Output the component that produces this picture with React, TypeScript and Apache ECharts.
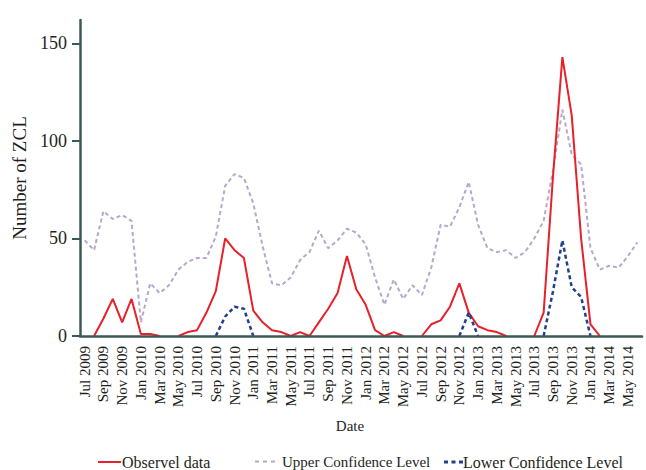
import React, { useEffect, useRef } from "react";
import * as echarts from "echarts";

const categories = [
  "Jul 2009", "Aug 2009", "Sep 2009", "Oct 2009", "Nov 2009", "Dec 2009",
  "Jan 2010", "Feb 2010", "Mar 2010", "Apr 2010", "May 2010", "Jun 2010",
  "Jul 2010", "Aug 2010", "Sep 2010", "Oct 2010", "Nov 2010", "Dec 2010",
  "Jan 2011", "Feb 2011", "Mar 2011", "Apr 2011", "May 2011", "Jun 2011",
  "Jul 2011", "Aug 2011", "Sep 2011", "Oct 2011", "Nov 2011", "Dec 2011",
  "Jan 2012", "Feb 2012", "Mar 2012", "Apr 2012", "May 2012", "Jun 2012",
  "Jul 2012", "Aug 2012", "Sep 2012", "Oct 2012", "Nov 2012", "Dec 2012",
  "Jan 2013", "Feb 2013", "Mar 2013", "Apr 2013", "May 2013", "Jun 2013",
  "Jul 2013", "Aug 2013", "Sep 2013", "Oct 2013", "Nov 2013", "Dec 2013",
  "Jan 2014", "Feb 2014", "Mar 2014", "Apr 2014", "May 2014", "Jun 2014",
];

// null = segment lying on the axis (hidden under it in the reference)
const observed = [
  null, 0, 9, 19, 7, 19, 1, 1, 0, null, 0, 2,
  3, 12, 23, 50, 44, 40, 13, 7, 3, 2, 0, 2,
  0, 7, 14, 22, 41, 24, 16, 3, 0, 2, 0, null,
  0, 6, 8, 15, 27, 12, 5, 3, 2, 0, null, null,
  0, 12, 82, 143, 113, 50, 6, 0, null, null, null, null,
];

const upper = [
  49, 44, 64, 60, 62, 59, 7, 27, 22, 26, 34, 38,
  40, 40, 51, 77, 83, 81, 68, 46, 27, 26, 30, 39,
  43, 54, 45, 49, 55, 53, 47, 30, 16, 29, 19, 26,
  21, 35, 57, 56, 66, 79, 57, 45, 43, 44, 40, 43,
  50, 59, 85, 116, 93, 88, 45, 34, 36, 35, 41, 48,
];

const lower = [
  null, null, null, null, null, null, null, null, null, null, null, null,
  null, null, 0, 10, 15, 14, 0, null, null, null, null, null,
  null, null, null, null, null, null, null, null, null, null, null, null,
  null, null, null, null, 0, 12, 0, null, null, null, null, null,
  null, 0, 23, 49, 25, 20, 0, null, null, null, null, null,
];

const yTicks = [0, 50, 100, 150];

const FONT = "'Liberation Serif', 'Times New Roman', serif";
const TEXT = "#231f20";
const AXIS = "#3d5858";
const UPPER_ICON = "path://M0,0h4v2h-4zM8,0h4v2h-4zM16,0h4v2h-4z";
const LOWER_ICON = "path://M0,0h4v3h-4zM7.5,0h4v3h-4zM15,0h4v3h-4z";

export default function App() {
  const ref = useRef<HTMLDivElement>(null);
  useEffect(() => {
    if (!ref.current) return;
    const chart = echarts.init(ref.current, null, { renderer: "svg" });
    chart.setOption({
      animation: false,
      backgroundColor: "#ffffff",
      grid: { left: 80, right: 4, top: 20, bottom: 134, containLabel: false },
      xAxis: {
        type: "category",
        data: categories,
        boundaryGap: true,
        z: 5,
        name: "Date",
        nameLocation: "middle",
        nameGap: 82,
        nameTextStyle: { fontFamily: FONT, fontSize: 15, color: TEXT, padding: [0, 22, 0, 0] },
        axisLine: { lineStyle: { color: AXIS, width: 2.5 } },
        axisTick: { interval: 1, alignWithLabel: true, length: 6, lineStyle: { color: AXIS, width: 2 } },
        axisLabel: {
          interval: 1,
          rotate: 90,
          margin: 10,
          fontFamily: FONT,
          fontSize: 15,
          color: TEXT,
        },
        splitLine: { show: false },
      },
      yAxis: {
        type: "value",
        min: 0,
        max: 162,
        name: "Number of ZCL",
        nameLocation: "middle",
        nameGap: 40,
        nameTextStyle: { fontFamily: FONT, fontSize: 19, color: TEXT },
        axisLine: { show: true, lineStyle: { color: AXIS, width: 2.5 } },
        axisTick: { show: true, length: 8, customValues: yTicks, lineStyle: { color: AXIS, width: 2 } },
        axisLabel: { customValues: yTicks, margin: 13, fontFamily: FONT, fontSize: 18, color: TEXT },
        splitLine: { show: false },
      },
      legend: [
        {
          data: [{ name: "Observel data", icon: "rect" }],
          left: 93,
          top: 449,
          itemWidth: 23,
          itemHeight: 2,
          textStyle: { fontFamily: FONT, fontSize: 16, color: TEXT, padding: [0, 0, 0, -4] },
        },
        {
          data: [{ name: "Upper Confidence Level", icon: UPPER_ICON }],
          left: 250,
          top: 449,
          itemWidth: 20,
          itemHeight: 2,
          textStyle: { fontFamily: FONT, fontSize: 15, color: TEXT, padding: [0, 0, 0, 2] },
        },
        {
          data: [{ name: "Lower Confidence Level", icon: LOWER_ICON }],
          left: 439,
          top: 449,
          itemWidth: 19,
          itemHeight: 3,
          textStyle: { fontFamily: FONT, fontSize: 16, color: TEXT, padding: [0, 0, 0, -5] },
        },
      ],
      series: [
        {
          name: "Upper Confidence Level",
          type: "line",
          data: upper,
          symbol: "none",
          z: 2,
          lineStyle: { color: "#b7a7cb", width: 2, type: [4, 3] },
          itemStyle: { color: "#b7a7cb" },
        },
        {
          name: "Observel data",
          type: "line",
          data: observed,
          symbol: "none",
          z: 3,
          lineStyle: { color: "#e8202a", width: 2 },
          itemStyle: { color: "#e8202a" },
        },
        {
          name: "Lower Confidence Level",
          type: "line",
          data: lower,
          symbol: "none",
          z: 4,
          lineStyle: { color: "#23408e", width: 2.5, type: [4, 3] },
          itemStyle: { color: "#23408e" },
        },
      ],
    });
    return () => chart.dispose();
  }, []);
  return (
    <div
      ref={ref}
      style={{ position: "absolute", left: 0, top: 0, width: 646, height: 470 }}
    />
  );
}
